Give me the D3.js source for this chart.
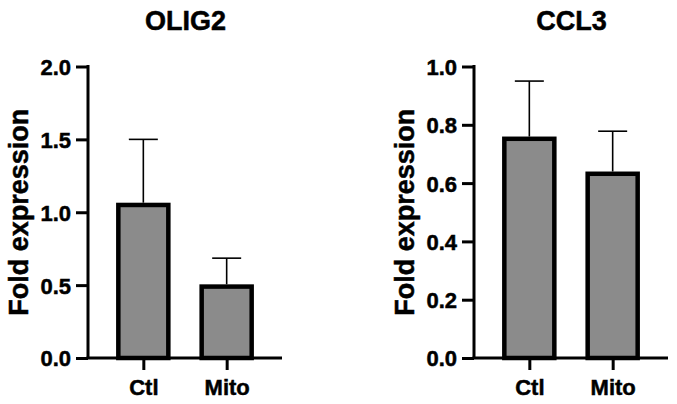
<!DOCTYPE html>
<html>
<head>
<meta charset="utf-8">
<script src="https://cdn.jsdelivr.net/npm/d3@7"></script>
<style>
  html, body { margin: 0; padding: 0; background: #fff; }
  svg { display: block; }
  text { font-family: "Liberation Sans", Arial, Helvetica, sans-serif; font-weight: bold; fill: #000; stroke: #000; stroke-width: 0.5px; }
</style>
</head>
<body>
<svg id="chart" width="677" height="404"></svg>
<script>
const categories = ["Ctl", "Mito"];

const olig2Title = "OLIG2";
const olig2Means = [1.05, 0.49];
const olig2Errors = [0.45, 0.195];
const olig2Ticks = [0, 0.5, 1.0, 1.5, 2.0];
const olig2Max = 2.0;

const ccl3Title = "CCL3";
const ccl3Means = [0.752, 0.632];
const ccl3Errors = [0.198, 0.146];
const ccl3Ticks = [0, 0.2, 0.4, 0.6, 0.8, 1.0];
const ccl3Max = 1.0;

const yLabel = "Fold expression";

const svg = d3.select("#chart");

function drawPanel(x0, title, means, errors, ticks, ymax) {
  const left = x0, right = x0 + 194, top = 66.5, bottom = 358;
  const g = svg.append("g");
  const y = d3.scaleLinear().domain([0, ymax]).range([bottom, top]);
  const x = d3.scalePoint().domain(categories).range([left, right]).padding(0.664);
  const barW = 50;

  g.selectAll("rect.bar").data(categories).join("rect")
    .attr("class", "bar")
    .attr("x", d => x(d) - barW / 2)
    .attr("y", (d, i) => y(means[i]))
    .attr("width", barW)
    .attr("height", (d, i) => y(0) - y(means[i]))
    .attr("fill", "#8b8b8b")
    .attr("stroke", "#000")
    .attr("stroke-width", 4.5);

  const eb = g.selectAll("g.err").data(categories).join("g").attr("class", "err");
  eb.append("line")
    .attr("x1", d => x(d)).attr("x2", d => x(d))
    .attr("y1", (d, i) => y(means[i]) - 2.25)
    .attr("y2", (d, i) => y(means[i] + errors[i]))
    .attr("stroke", "#000").attr("stroke-width", 1.6);
  eb.append("line")
    .attr("x1", d => x(d) - 14.5).attr("x2", d => x(d) + 14.5)
    .attr("y1", (d, i) => y(means[i] + errors[i]))
    .attr("y2", (d, i) => y(means[i] + errors[i]))
    .attr("stroke", "#000").attr("stroke-width", 1.6);

  const yAxis = d3.axisLeft(y).tickValues(ticks).tickFormat(d3.format(".1f"))
    .tickSize(12).tickPadding(5).tickSizeOuter(0);
  const ya = g.append("g").attr("transform", `translate(${left},0)`).call(yAxis);
  ya.attr("font-size", null).attr("font-family", null);
  ya.select(".domain").attr("stroke", "#000").attr("stroke-width", 3)
    .attr("d", `M0,${top - 1.5}V${bottom}`);
  ya.selectAll(".tick line").attr("stroke", "#000").attr("stroke-width", 3);
  ya.selectAll(".tick text").style("font-size", "22px").attr("dy", "0.36em").attr("fill", "#000");

  const xAxis = d3.axisBottom(x).tickSize(12).tickPadding(9).tickSizeOuter(0);
  const xa = g.append("g").attr("transform", `translate(0,${bottom})`).call(xAxis);
  xa.attr("font-size", null).attr("font-family", null);
  xa.select(".domain").attr("stroke", "#000").attr("stroke-width", 3)
    .attr("d", `M${left - 1.5},0H${right}`);
  xa.selectAll(".tick line").attr("stroke", "#000").attr("stroke-width", 3);
  xa.selectAll(".tick text").style("font-size", "22px").attr("fill", "#000");

  g.append("text")
    .attr("x", x0 + 97.5).attr("y", 30)
    .attr("text-anchor", "middle")
    .style("font-size", "27px")
    .text(title);

  g.append("text")
    .attr("transform", `translate(${x0 - 60},${(top + bottom) / 2}) rotate(-90)`)
    .attr("text-anchor", "middle")
    .style("font-size", "27px")
    .text(yLabel);
}

drawPanel(88, olig2Title, olig2Means, olig2Errors, olig2Ticks, olig2Max);
drawPanel(474, ccl3Title, ccl3Means, ccl3Errors, ccl3Ticks, ccl3Max);
</script>
</body>
</html>
